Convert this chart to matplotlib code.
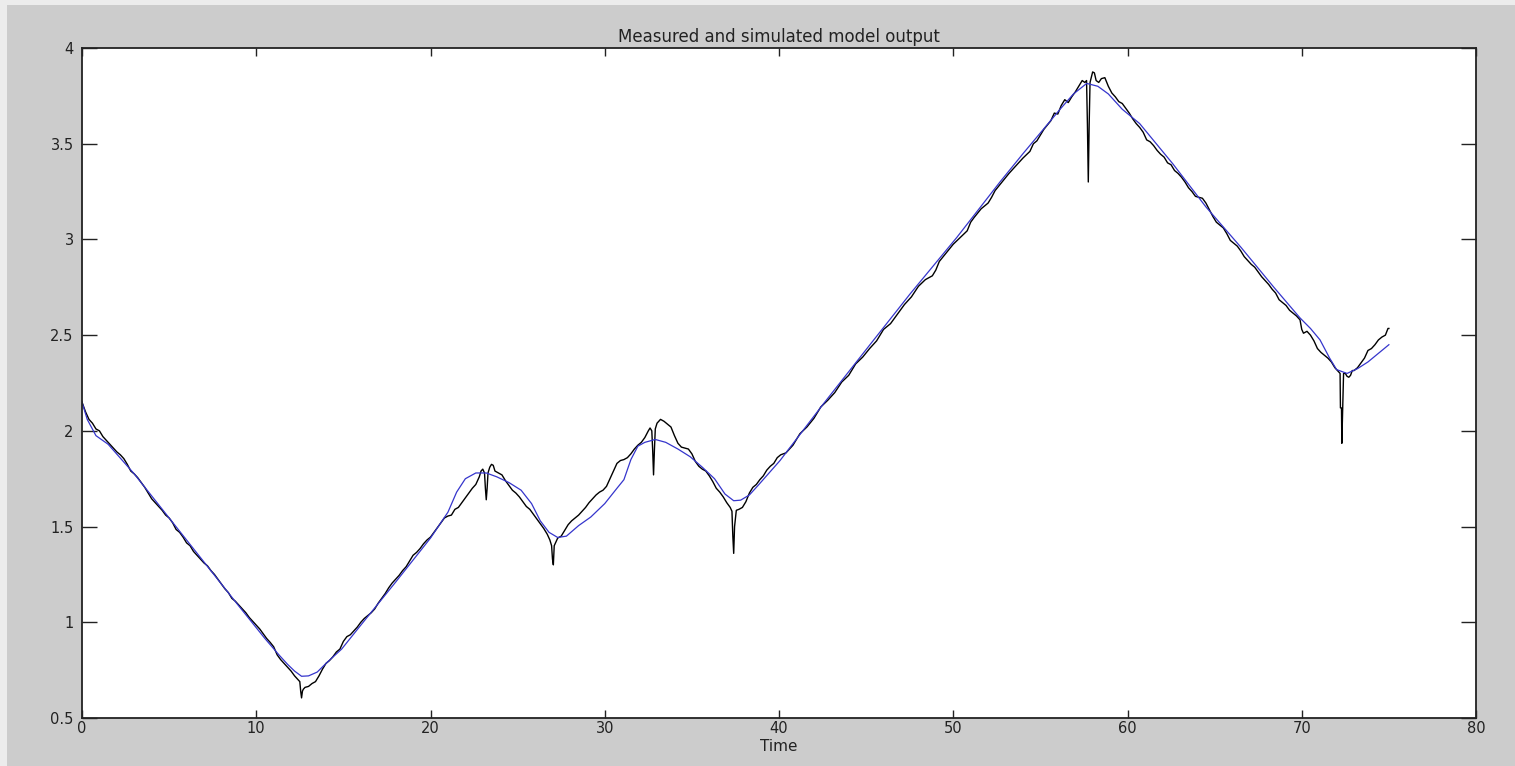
import matplotlib
matplotlib.use("Agg")
import matplotlib.pyplot as plt
from matplotlib.patches import Rectangle

plt.rcParams['font.family'] = ['DejaVu Sans']

title = "Measured and simulated model output"
xlabel = "Time"
xticks = [0, 10, 20, 30, 40, 50, 60, 70, 80]
xtick_labels = ['0', '10', '20', '30', '40', '50', '60', '70', '80']
yticks = [0.5, 1, 1.5, 2, 2.5, 3, 3.5, 4]
ytick_labels = ['0.5', '1', '1.5', '2', '2.5', '3', '3.5', '4']

# measured output (black)
measured_t = [
    0.0, 0.2, 0.4, 0.6, 0.8, 1.0, 1.2, 1.4, 1.6, 1.8, 2.0, 2.2, 2.4, 2.6, 2.8, 3.0,
    3.2, 3.4, 3.6, 3.8, 4.0, 4.2, 4.4, 4.6, 4.8, 5.0, 5.2, 5.4, 5.6, 5.8, 6.0, 6.2,
    6.4, 6.6, 6.8, 7.0, 7.2, 7.4, 7.6, 7.8, 8.0, 8.2, 8.4, 8.6, 8.8, 9.0, 9.2, 9.4,
    9.6, 9.8, 10.0, 10.2, 10.4, 10.6, 10.8, 11.0, 11.2, 11.4, 11.6, 11.8, 12.0, 12.2,
    12.4, 12.5, 12.55, 12.6, 12.65, 12.7, 12.8, 13.0, 13.2, 13.4, 13.6, 13.8, 14.0,
    14.2, 14.4, 14.6, 14.8, 15.0, 15.2, 15.4, 15.6, 15.8, 16.0, 16.2, 16.4, 16.6,
    16.8, 17.0, 17.2, 17.4, 17.6, 17.8, 18.0, 18.2, 18.4, 18.6, 18.8, 19.0, 19.2,
    19.4, 19.6, 19.8, 20.0, 20.2, 20.4, 20.6, 20.8, 21.0, 21.2, 21.4, 21.6, 21.8,
    22.0, 22.2, 22.4, 22.6, 22.8, 22.9, 23.0, 23.1, 23.15, 23.2, 23.25, 23.3, 23.4,
    23.5, 23.6, 23.7, 23.9, 24.1, 24.3, 24.5, 24.7, 24.9, 25.1, 25.3, 25.5, 25.7,
    25.9, 26.1, 26.3, 26.5, 26.7, 26.85, 26.95, 27.0, 27.05, 27.1, 27.2, 27.3, 27.5,
    27.7, 27.9, 28.1, 28.3, 28.5, 28.7, 28.9, 29.1, 29.3, 29.5, 29.7, 29.9, 30.1,
    30.3, 30.5, 30.7, 30.9, 31.1, 31.3, 31.5, 31.7, 31.9, 32.1, 32.3, 32.5, 32.6,
    32.7, 32.75, 32.8, 32.85, 32.9, 33.0, 33.2, 33.4, 33.6, 33.8, 34.0, 34.2, 34.4,
    34.6, 34.8, 35.0, 35.2, 35.4, 35.6, 35.8, 36.0, 36.2, 36.4, 36.6, 36.8, 37.0,
    37.2, 37.3, 37.35, 37.4, 37.45, 37.55, 37.7, 37.9, 38.1, 38.3, 38.5, 38.7, 38.9,
    39.1, 39.3, 39.5, 39.7, 39.9, 40.1, 40.4, 40.8, 41.2, 41.6, 42.0, 42.4, 42.8,
    43.2, 43.6, 44.0, 44.4, 44.8, 45.2, 45.6, 46.0, 46.4, 46.8, 47.2, 47.6, 48.0,
    48.4, 48.8, 49.0, 49.2, 49.6, 50.0, 50.4, 50.8, 51.0, 51.2, 51.6, 52.0, 52.2,
    52.4, 52.8, 53.2, 53.6, 54.0, 54.4, 54.6, 54.8, 55.2, 55.6, 55.8, 56.0, 56.2,
    56.4, 56.6, 56.8, 57.0, 57.2, 57.4, 57.55, 57.65, 57.7, 57.75, 57.8, 57.85,
    58.0, 58.1, 58.2, 58.35, 58.5, 58.7, 58.9, 59.1, 59.3, 59.5, 59.7, 59.9, 60.1,
    60.3, 60.5, 60.7, 60.9, 61.1, 61.3, 61.5, 61.7, 61.9, 62.1, 62.3, 62.5, 62.7,
    62.9, 63.1, 63.3, 63.5, 63.7, 63.9, 64.1, 64.3, 64.5, 64.7, 64.9, 65.1, 65.3,
    65.5, 65.7, 65.9, 66.1, 66.3, 66.5, 66.7, 66.9, 67.1, 67.3, 67.5, 67.7, 67.9,
    68.1, 68.3, 68.5, 68.7, 68.9, 69.1, 69.3, 69.5, 69.7, 69.9, 70.0, 70.1, 70.3,
    70.5, 70.7, 70.9, 71.1, 71.3, 71.5, 71.7, 71.9, 72.1, 72.2, 72.22, 72.28, 72.3,
    72.35, 72.4, 72.5, 72.6, 72.7, 72.8, 72.9, 73.0, 73.2, 73.4, 73.6, 73.8, 74.0,
    74.2, 74.4, 74.6, 74.8, 74.95, 75.0,
]
measured_y = [
    2.15, 2.10, 2.06, 2.04, 2.01, 2.00, 1.97, 1.95, 1.93, 1.91, 1.89, 1.875, 1.855,
    1.825, 1.79, 1.775, 1.755, 1.73, 1.705, 1.675, 1.645, 1.625, 1.605, 1.585, 1.56,
    1.545, 1.52, 1.485, 1.47, 1.445, 1.415, 1.40, 1.37, 1.35, 1.33, 1.31, 1.295, 1.27,
    1.25, 1.225, 1.20, 1.175, 1.155, 1.125, 1.11, 1.09, 1.07, 1.05, 1.025, 1.005,
    0.985, 0.965, 0.94, 0.915, 0.895, 0.872, 0.83, 0.805, 0.785, 0.765, 0.745, 0.72,
    0.70, 0.69, 0.64, 0.605, 0.64, 0.65, 0.66, 0.665, 0.68, 0.69, 0.72, 0.755, 0.785,
    0.80, 0.82, 0.845, 0.86, 0.90, 0.925, 0.935, 0.955, 0.975, 1.00, 1.02, 1.035, 1.05,
    1.07, 1.10, 1.125, 1.15, 1.18, 1.205, 1.225, 1.245, 1.27, 1.29, 1.32, 1.35, 1.365,
    1.385, 1.41, 1.43, 1.445, 1.47, 1.495, 1.52, 1.545, 1.555, 1.56, 1.59, 1.60, 1.625,
    1.65, 1.675, 1.70, 1.72, 1.76, 1.79, 1.80, 1.78, 1.70, 1.64, 1.70, 1.78, 1.81,
    1.825, 1.82, 1.79, 1.78, 1.77, 1.74, 1.715, 1.69, 1.675, 1.655, 1.63, 1.605, 1.59,
    1.565, 1.54, 1.515, 1.49, 1.46, 1.43, 1.40, 1.33, 1.30, 1.40, 1.42, 1.44, 1.45,
    1.48, 1.51, 1.53, 1.545, 1.56, 1.58, 1.60, 1.625, 1.645, 1.665, 1.68, 1.69, 1.71,
    1.75, 1.79, 1.83, 1.845, 1.85, 1.86, 1.88, 1.905, 1.925, 1.94, 1.965, 2.00, 2.015,
    2.00, 1.90, 1.77, 1.90, 2.01, 2.04, 2.06, 2.05, 2.035, 2.02, 1.975, 1.935, 1.915,
    1.91, 1.905, 1.88, 1.84, 1.815, 1.80, 1.79, 1.765, 1.735, 1.70, 1.68, 1.655, 1.625,
    1.60, 1.58, 1.45, 1.36, 1.50, 1.585, 1.59, 1.60, 1.63, 1.675, 1.705, 1.72, 1.745,
    1.765, 1.795, 1.815, 1.83, 1.86, 1.875, 1.885, 1.925, 1.985, 2.02, 2.065, 2.125,
    2.16, 2.20, 2.255, 2.29, 2.35, 2.385, 2.43, 2.47, 2.53, 2.56, 2.61, 2.66, 2.70,
    2.755, 2.79, 2.81, 2.84, 2.885, 2.93, 2.975, 3.01, 3.045, 3.09, 3.115, 3.16, 3.19,
    3.22, 3.255, 3.30, 3.345, 3.385, 3.425, 3.46, 3.50, 3.515, 3.575, 3.62, 3.66, 3.655,
    3.70, 3.73, 3.715, 3.745, 3.77, 3.80, 3.83, 3.82, 3.83, 3.60, 3.30, 3.60, 3.82,
    3.875, 3.87, 3.83, 3.82, 3.84, 3.845, 3.80, 3.765, 3.745, 3.72, 3.71, 3.685, 3.66,
    3.63, 3.605, 3.585, 3.56, 3.52, 3.51, 3.49, 3.465, 3.445, 3.43, 3.40, 3.39, 3.36,
    3.345, 3.325, 3.30, 3.27, 3.25, 3.225, 3.22, 3.215, 3.19, 3.155, 3.12, 3.09, 3.075,
    3.06, 3.03, 2.995, 2.98, 2.965, 2.94, 2.91, 2.89, 2.87, 2.855, 2.83, 2.805, 2.785,
    2.765, 2.74, 2.72, 2.685, 2.67, 2.655, 2.63, 2.615, 2.60, 2.58, 2.53, 2.51, 2.52,
    2.50, 2.47, 2.43, 2.41, 2.395, 2.38, 2.36, 2.33, 2.31, 2.30, 2.12, 2.12, 1.935,
    2.12, 2.30, 2.30, 2.285, 2.28, 2.29, 2.315, 2.315, 2.33, 2.355, 2.38, 2.42, 2.43,
    2.45, 2.475, 2.49, 2.50, 2.535, 2.535,
]

# simulated model output (blue)
simulated_t = [
    0.0, 0.3, 0.8, 1.5, 3.0, 5.0, 7.0, 9.0, 10.5, 11.3, 11.8, 12.2, 12.6, 13.0, 13.5,
    14.0, 14.9, 16.0, 18.0, 20.0, 21.0, 21.5, 22.0, 22.6, 23.2, 23.8, 24.5, 25.2,
    25.8, 26.3, 26.8, 27.3, 27.8, 28.5, 29.2, 30.0, 30.7, 31.1, 31.5, 31.9, 32.3,
    32.9, 33.5, 34.2, 34.9, 35.6, 36.3, 36.9, 37.4, 37.8, 38.3, 38.8, 40.06, 42.54,
    45.22, 47.52, 50.2, 52.68, 54.02, 55.17, 56.13, 56.9, 57.66, 58.3, 58.9, 59.7,
    60.7, 62.6, 64.5, 66.5, 68.4, 69.9, 70.5, 71.05, 71.6, 72.0, 72.6, 73.2, 73.8,
    74.4, 75.0,
]
simulated_y = [
    2.15, 2.06, 1.975, 1.93, 1.775, 1.545, 1.315, 1.085, 0.915, 0.83, 0.78, 0.745,
    0.718, 0.72, 0.74, 0.785, 0.86, 0.985, 1.21, 1.44, 1.575, 1.68, 1.75, 1.78, 1.78,
    1.76, 1.73, 1.69, 1.62, 1.53, 1.47, 1.443, 1.45, 1.505, 1.55, 1.62, 1.70, 1.745,
    1.85, 1.92, 1.94, 1.955, 1.94, 1.905, 1.865, 1.81, 1.75, 1.67, 1.635, 1.638, 1.665,
    1.715, 1.845, 2.14, 2.45, 2.715, 3.01, 3.30, 3.45, 3.575, 3.68, 3.76, 3.815, 3.80,
    3.76, 3.68, 3.605, 3.395, 3.17, 2.96, 2.75, 2.59, 2.535, 2.475, 2.38, 2.32, 2.30,
    2.325, 2.36, 2.405, 2.45,
]

fig = plt.figure(figsize=(15.15, 7.66), dpi=100, facecolor='#cccccc')
# light border strips (left and top)
fig.patches.append(Rectangle((0, 0), 7 / 1515, 1, transform=fig.transFigure,
                             facecolor='#ececec', edgecolor='none', zorder=-1))
fig.patches.append(Rectangle((0, 1 - 5 / 766), 1, 5 / 766, transform=fig.transFigure,
                             facecolor='#ececec', edgecolor='none', zorder=-1))

ax = fig.add_axes([82 / 1515, 48 / 766, 1394 / 1515, 670 / 766])
ax.set_facecolor('white')

ax.plot(measured_t, measured_y, color='black', linewidth=1.0)
ax.plot(simulated_t, simulated_y, color='#3535cc', linewidth=0.9)

ax.set_xlim(0, 80)
ax.set_ylim(0.5, 4)
ax.set_xticks(xticks)
ax.set_xticklabels(xtick_labels)
ax.set_yticks(yticks)
ax.set_yticklabels(ytick_labels)

ax.tick_params(axis='both', direction='in', top=True, right=True,
               labelsize=10.5, colors='#222222', width=1.0)
ax.tick_params(axis='y', length=10.5, pad=6)
ax.tick_params(axis='x', length=6, pad=2)
for s in ax.spines.values():
    s.set_linewidth(1.3)
    s.set_color('#222222')

ax.set_title(title, fontsize=12, color='#222222', pad=4)
ax.set_xlabel(xlabel, fontsize=11, color='#222222', labelpad=2)

fig.savefig('out.png', dpi=100, facecolor=fig.get_facecolor())
